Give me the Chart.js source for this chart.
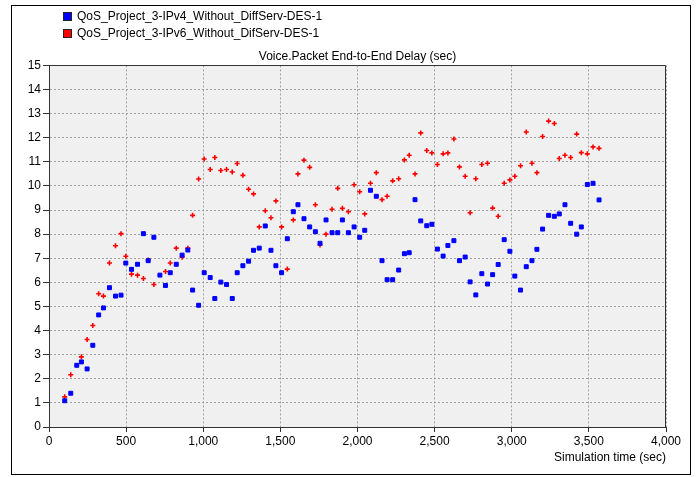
<!DOCTYPE html>
<html>
<head>
<meta charset="utf-8">
<title>Voice.Packet End-to-End Delay</title>
<script src="https://cdn.jsdelivr.net/npm/chart.js@4.4.1/dist/chart.umd.min.js"></script>
<style>
	body { margin:0; background:#fff; }
	#wrap { position:relative; width:700px; height:477px; }
	#frame { position:absolute; left:11px; top:5px; width:678px; height:468px; border:1px solid #000; pointer-events:none; }
	#legend { position:absolute; left:63px; top:8px; font:12px "Liberation Sans", Arial, sans-serif; color:#000; }
	.item { height:16.5px; line-height:16.5px; white-space:nowrap; }
	.box { display:inline-block; width:7px; height:7px; border:1px solid #222; margin-right:5px; vertical-align:-1px; }
</style>
</head>
<body>
<div id="wrap">
	<canvas id="delayChart" width="700" height="477"></canvas>
	<div id="frame"></div>
	<div id="legend"></div>
</div>
<script>
// simulation time (sec) of each sample
const times = [102,141,180,210,247,284,322,353,392,431,
	467,498,535,574,612,643,680,719,755,786,
	825,863,900,931,970,1006,1045,1075,1114,1151,
	1188,1220,1257,1294,1326,1363,1402,1439,1471,1508,
	1545,1584,1614,1653,1690,1727,1757,1796,1835,1872,
	1902,1941,1978,2014,2047,2084,2122,2159,2192,2228,
	2267,2304,2335,2373,2410,2449,2482,2518,2555,2586,
	2625,2661,2698,2730,2767,2806,2843,2876,2912,2951,
	2988,3020,3057,3094,3131,3163,3200,3239,3276,3308,
	3345,3382,3421,3451,3490,3527,3566];

// IPv4 delay (sec)
const ipv4Delay = [1.09,1.40,2.56,2.70,2.41,3.39,4.65,4.94,5.78,5.43,
	5.47,6.80,6.54,6.75,8.02,6.90,7.87,6.30,5.87,6.40,
	6.75,7.13,7.34,5.68,5.05,6.40,6.20,5.33,6.01,5.91,
	5.33,6.40,6.69,6.88,7.33,7.42,8.34,7.33,6.69,6.40,
	7.81,8.93,9.22,8.64,8.30,8.10,7.62,8.59,8.06,8.06,
	8.59,8.06,8.30,7.87,8.16,9.82,9.57,6.90,6.11,6.11,
	6.51,7.19,7.23,9.43,8.55,8.35,8.41,7.38,7.09,7.53,
	7.73,6.90,7.05,6.02,5.48,6.36,5.93,6.32,6.74,7.77,
	7.29,6.26,5.68,6.65,6.90,7.37,8.21,8.78,8.74,8.84,
	9.22,8.45,8.00,8.30,10.06,10.11,9.42];

// IPv6 delay (sec), null where the mark is hidden
const ipv6Delay = [1.25,2.17,null,2.91,3.63,4.21,5.53,5.43,6.80,7.52,
	8.02,7.08,6.34,6.30,6.16,6.93,5.91,null,6.45,6.80,
	7.42,7.04,7.42,8.78,10.29,11.12,10.68,11.18,10.64,10.68,
	10.58,10.93,10.44,9.86,9.67,8.30,8.97,8.68,9.38,8.30,
	6.55,8.59,10.50,11.07,10.77,9.22,7.55,8.00,9.03,9.90,
	9.07,8.93,10.05,9.76,8.84,10.11,10.55,9.43,9.57,10.21,
	10.30,11.08,11.27,10.50,12.20,11.47,11.37,10.89,11.33,11.37,
	11.95,10.79,10.40,8.89,10.30,10.89,10.94,9.08,8.74,10.11,
	10.25,10.40,10.84,12.24,10.94,10.55,12.05,12.69,12.59,11.14,
	11.27,11.18,12.15,11.38,11.33,11.62,11.56];

const seriesNames = ['QoS_Project_3-IPv4_Without_DiffServ-DES-1', 'QoS_Project_3-IPv6_Without_DifServ-DES-1'];
const seriesColors = ['#0000ff', '#ff0000'];

const FONT = '"Liberation Sans", Arial, sans-serif';

function toPoints(ys) {
	let pts = [];
	for(let i=0;i<times.length;i++) {
		if(ys[i] !== null) pts.push({x:times[i], y:ys[i]});
	}
	return pts;
}

// plot background and top/right edges
const plotFrame = {
	id:'plotFrame',
	beforeDraw(chart) {
		const {ctx, chartArea:a} = chart;
		ctx.save();
		ctx.fillStyle = '#f0f0f0';
		ctx.fillRect(a.left, a.top, a.right - a.left, a.bottom - a.top);
		ctx.restore();
	},
	afterDraw(chart) {
		const {ctx, chartArea:a} = chart;
		ctx.save();
		ctx.strokeStyle = '#333';
		ctx.lineWidth = 1;
		ctx.beginPath();
		ctx.moveTo(Math.round(a.left) + 0.5, Math.round(a.top) + 0.5);
		ctx.lineTo(Math.round(a.right) - 0.5, Math.round(a.top) + 0.5);
		ctx.lineTo(Math.round(a.right) - 0.5, Math.round(a.bottom));
		ctx.stroke();
		ctx.restore();
	}
};

let legend = document.querySelector('#legend');
seriesNames.forEach((name, i) => {
	legend.innerHTML += '<div class="item"><span class="box" style="background:' + seriesColors[i] + '"></span>' + name + '</div>';
});

let ctx = document.querySelector('#delayChart').getContext('2d');
new Chart(ctx, {
	type:'scatter',
	data:{
		datasets:[{
			label:seriesNames[0],
			data:toPoints(ipv4Delay),
			pointStyle:'rect',
			pointRadius:2.8,
			backgroundColor:seriesColors[0],
			borderColor:seriesColors[0],
			borderWidth:1
		},{
			label:seriesNames[1],
			data:toPoints(ipv6Delay),
			pointStyle:'cross',
			pointRadius:2.5,
			borderColor:seriesColors[1],
			backgroundColor:seriesColors[1],
			borderWidth:1.6
		}]
	},
	options:{
		responsive:false,
		animation:false,
		layout:{padding:{left:0, right:34, top:0, bottom:0}},
		plugins:{
			legend:{display:false},
			tooltip:{enabled:false},
			title:{
				display:true,
				fullSize:false,
				text:'Voice.Packet End-to-End Delay (sec)',
				color:'#000',
				font:{family:FONT, size:12, weight:'normal'},
				padding:{top:49, bottom:2}
			}
		},
		scales:{
			x:{
				type:'linear', min:0, max:4000,
				ticks:{stepSize:500, color:'#000', font:{family:FONT, size:12}, padding:2, maxRotation:0},
				grid:{color:'#a0a0a0', tickColor:'#333', tickLength:5},
				border:{color:'#333', dash:[2,2]},
				title:{display:true, text:'Simulation time (sec)', align:'end', color:'#000',
					font:{family:FONT, size:12}, padding:{top:0, bottom:12}},
				afterFit(s) { s.height = 50; }
			},
			y:{
				min:0, max:15,
				ticks:{stepSize:1, color:'#000', font:{family:FONT, size:12}, padding:2},
				grid:{color:'#a0a0a0', tickColor:'#333', tickLength:6},
				border:{color:'#333', dash:[2,2]},
				afterFit(s) { s.width = 49; }
			}
		}
	},
	plugins:[plotFrame]
});
</script>
</body>
</html>
